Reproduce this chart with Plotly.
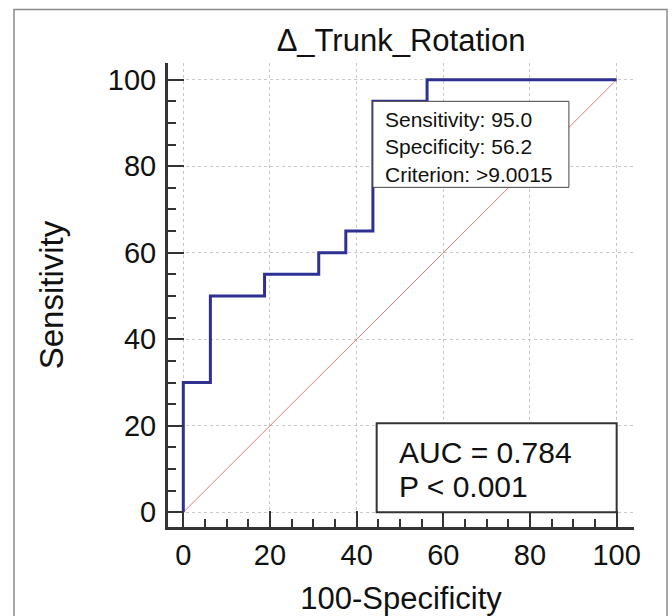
import plotly.graph_objects as go

# ---- data ----
fpr = [0, 0, 6.25, 18.75, 31.25, 37.5, 43.75, 56.25, 100]      # 100-Specificity
tpr = [0, 30, 50, 55, 60, 65, 95, 100, 100]                    # Sensitivity
diag_x = [0, 100]
diag_y = [0, 100]
cut_fpr = 43.75
cut_sens = 95.0
cut_text = ["Sensitivity: 95.0", "Specificity: 56.2", "Criterion: >9.0015"]
auc_text = ["AUC = 0.784", "P < 0.001"]
title_text = "Δ_Trunk_Rotation"
x_title = "100-Specificity"
y_title = "Sensitivity"
tick_vals = [0, 20, 40, 60, 80, 100]

W, H = 672, 616
ML, MR, MT, MB = 168, 38, 63, 89
PW, PH = W - ML - MR, H - MT - MB
FONT = "Liberation Sans, Arial, sans-serif"
DARK = "#333333"
TXT = "#111111"

fig = go.Figure()
fig.add_trace(go.Scatter(x=diag_x, y=diag_y, mode="lines",
                         line=dict(color="#e05a5a", width=1), opacity=0.8,
                         hoverinfo="skip"))
fig.add_trace(go.Scatter(x=fpr, y=tpr, mode="lines", line_shape="hv",
                         line=dict(color="#2e3192", width=3)))

axis_common = dict(
    automargin=False,
    showline=True, linewidth=3, linecolor=DARK,
    ticks="inside", ticklen=16, tickwidth=2, tickcolor=DARK,
    tickvals=tick_vals,
    minor=dict(dtick=5, tick0=0, ticks="inside", ticklen=8, tickwidth=2,
               tickcolor=DARK, showgrid=False),
    showgrid=True, gridcolor="#c8c8c8", griddash="dot", gridwidth=1,
    zeroline=False, tickfont=dict(size=29, color=TXT, family=FONT),
    fixedrange=True,
)

fig.update_xaxes(range=[-3.53, 104], ticklabelstandoff=0,
                 title=dict(text=x_title, font=dict(size=31, color=TXT, family=FONT), standoff=20),
                 **axis_common)
fig.update_yaxes(range=[-3.4, 103.86], ticklabelstandoff=3,
                 title=dict(text=y_title, font=dict(size=33, color=TXT, family=FONT), standoff=35),
                 **axis_common)

# outer frame
fig.add_shape(type="rect", xref="paper", yref="paper",
              x0=(14 - ML) / PW, x1=(667 - ML) / PW,
              y0=-0.5, y1=1 + (MT - 9.5) / PH,
              line=dict(color="#8a8a8a", width=1.5), fillcolor="rgba(0,0,0,0)", layer="below")

# criterion box anchored at the operating point
fig.add_shape(type="rect", xref="x", yref="y",
              xsizemode="pixel", ysizemode="pixel",
              xanchor=cut_fpr, yanchor=cut_sens,
              x0=0, x1=196, y0=-86, y1=0,
              line=dict(color="#444444", width=1), fillcolor="white")
fig.add_annotation(x=cut_fpr, y=cut_sens, xref="x", yref="y",
                   xanchor="left", yanchor="top", xshift=10, yshift=-5,
                   align="left", showarrow=False,
                   text="<br>".join(cut_text),
                   font=dict(size=21, color=TXT, family=FONT))

# AUC box anchored at the bottom-right corner (100, 0)
fig.add_shape(type="rect", xref="x", yref="y",
              xsizemode="pixel", ysizemode="pixel",
              xanchor=100, yanchor=0,
              x0=-240, x1=0, y0=0, y1=89,
              line=dict(color=DARK, width=2), fillcolor="white")
for line_txt, ys in zip(auc_text, [60, 26]):
    fig.add_annotation(x=100, y=0, xref="x", yref="y",
                       xanchor="left", yanchor="middle", xshift=-220, yshift=ys,
                       align="left", showarrow=False, text=line_txt,
                       font=dict(size=30, color=TXT, family=FONT))

fig.update_layout(
    width=W, height=H, autosize=False,
    margin=dict(l=ML, r=MR, t=MT, b=MB, autoexpand=False),
    paper_bgcolor="white", plot_bgcolor="white",
    showlegend=False,
    title=dict(text=title_text, x=0.5, xref="paper", xanchor="center",
               y=1 - 40 / H, yref="container", yanchor="middle",
               font=dict(size=31, color=TXT, family=FONT)),
)

fig.write_html("out.html", config={"displayModeBar": False},
               post_script="document.body.style.margin='0';document.body.style.overflow='hidden';")
